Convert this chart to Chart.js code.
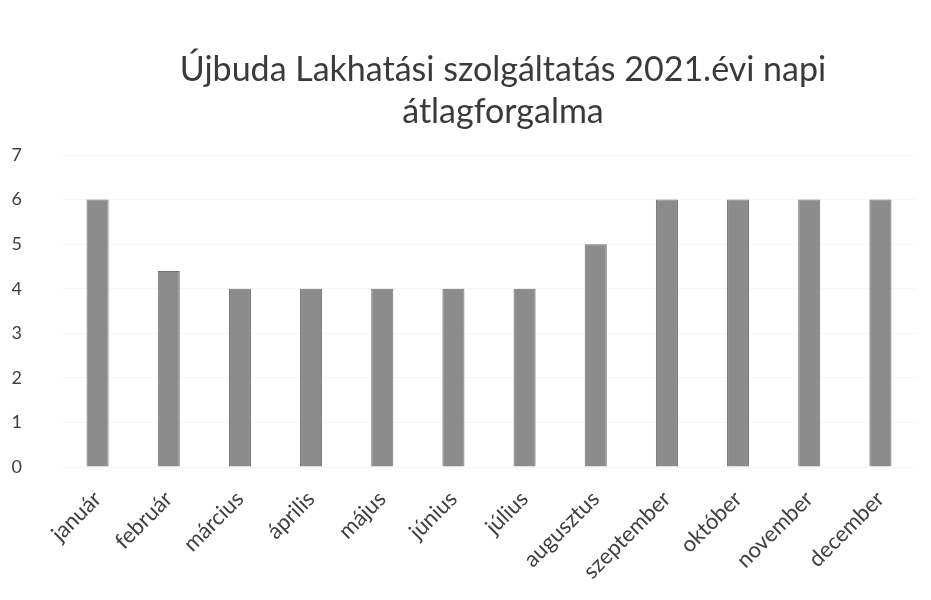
<!DOCTYPE html>
<html>
<head>
<meta charset="utf-8">
<script src="https://cdn.jsdelivr.net/npm/chart.js@4/dist/chart.umd.min.js"></script>
<style>
  html, body { margin: 0; padding: 0; background: #fff; }
  #doboz { position: relative; width: 931px; height: 600px; }
  #cim {
    position: absolute; left: 75px; right: 0; top: 47px;
    text-align: center; font-family: Lato, 'Open Sans', sans-serif;
    font-size: 34px; line-height: 42px; color: #3a3a3a;
  }
</style>
</head>
<body>
<div id="doboz">
  <canvas id="grafik" width="931" height="600"></canvas>
  <div id="cim">Újbuda Lakhatási szolgáltatás 2021.évi napi<br>átlagforgalma</div>
</div>
<script>
// ── ADATOK ──
const honapok = ['január', 'február', 'március', 'április', 'május', 'június',
  'július', 'augusztus', 'szeptember', 'október', 'november', 'december']
const atlagForgalom = [6, 4.4, 4, 4, 4, 4, 4, 5, 6, 6, 6, 6]
const yMax = 7

const betu = 'Lato, "Open Sans", sans-serif'

new Chart(document.getElementById('grafik'), {
  type: 'bar',
  data: {
    labels: honapok,
    datasets: [{
      data: atlagForgalom,
      backgroundColor: '#8c8c8c',
      borderColor: '#6e6e6e',
      borderWidth: 1,
      barPercentage: 0.62,
      categoryPercentage: 0.5
    }]
  },
  options: {
    responsive: false,
    animation: false,
    layout: { padding: { top: 155, right: 15, left: 0, bottom: 0 } },
    plugins: { legend: { display: false }, tooltip: { enabled: false } },
    scales: {
      y: {
        min: 0,
        max: yMax,
        ticks: { stepSize: 1, padding: 40, color: '#404040', font: { family: betu, size: 18 } },
        grid: { color: '#f7f7f7', drawTicks: false },
        border: { display: false },
        afterFit: s => { s.width = 62 }
      },
      x: {
        ticks: {
          minRotation: 45, maxRotation: 45, padding: 11,
          color: '#404040', font: { family: betu, size: 22 }
        },
        grid: { display: false },
        border: { display: false },
        afterFit: s => { s.height = 133 }
      }
    }
  }
})
</script>
</body>
</html>
